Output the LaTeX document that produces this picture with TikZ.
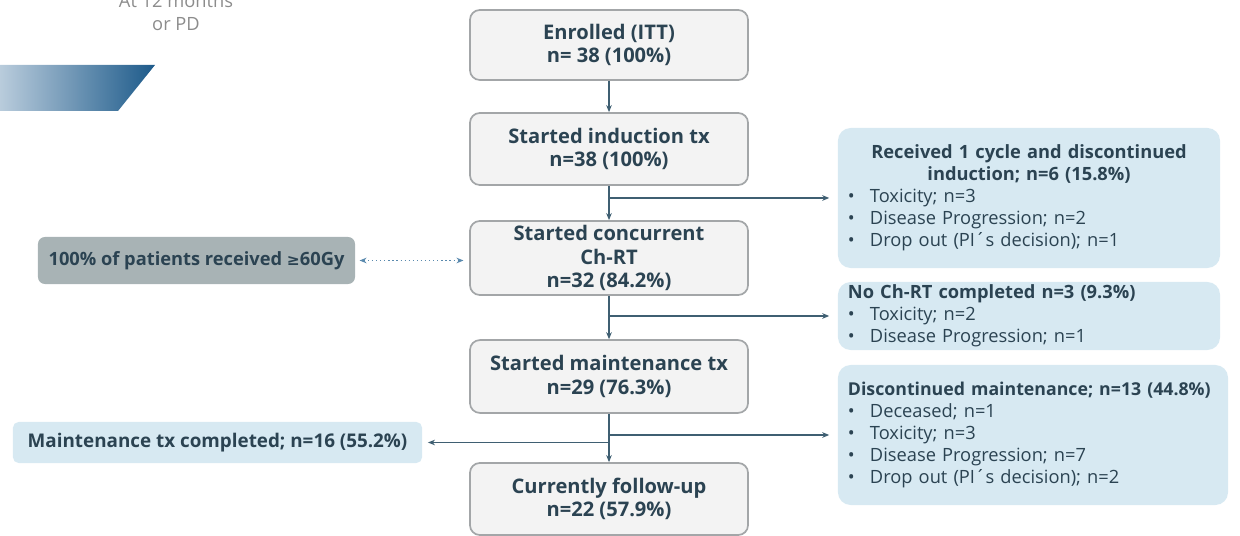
\documentclass[tikz,border=0pt]{standalone}
\usepackage{fontspec}
\setmainfont{Open Sans}
\newfontfamily\dejavu{DejaVu Sans}
\usetikzlibrary{arrows.meta, positioning, calc}
\definecolor{boxgray}{HTML}{F3F3F3}
\definecolor{boxline}{HTML}{A3A6A8}
\definecolor{textdark}{HTML}{2B4352}
\definecolor{sideblue}{HTML}{D7E9F2}
\definecolor{dosegray}{HTML}{A8B3B5}
\definecolor{arrowcol}{HTML}{3F5F72}
\definecolor{dotblue}{HTML}{5A8AAE}
\definecolor{bandlight}{HTML}{B9CCDC}
\definecolor{banddark}{HTML}{1D5A8A}
\newcommand{\flowfont}{\fontsize{14.3}{16.6}\selectfont\bfseries}
\newcommand{\notefont}{\fontsize{13}{15.6}\selectfont}
\newcommand{\sidebul}{\makebox[0.55cm][l]{\textbullet}}

\begin{document}
\begin{tikzpicture}[x=0.025cm, y=-0.025cm,
    mainbox/.style={draw=boxline, fill=boxgray, line width=1.2pt, rounded corners=7pt,
        text=textdark, font=\flowfont, align=center, inner sep=0pt,
        minimum width=6.95cm},
    sidebox/.style={fill=sideblue, rounded corners=9pt, text=textdark, font=\notefont,
        align=left, inner xsep=0.25cm, inner ysep=0pt},
    flow/.style={-{Stealth[length=5pt,width=4pt]}, line width=1.3pt, draw=arrowcol},
    dotflow/.style={{Stealth[length=5pt,width=4pt]}-{Stealth[length=5pt,width=4pt]},
        dotted, line width=0.9pt, draw=dotblue, shorten <=3pt, shorten >=4pt},
  ]
    \clip (0,0) rectangle (1240,536);
    \useasboundingbox (0,0) rectangle (1240,536);

    % Top left corner
    \node[text=gray!90, font=\fontsize{13}{16}\selectfont, align=center] (legend) at (176,12) {At 12 months\\or PD};
    \shade[left color=bandlight, right color=banddark] (0,65) -- (155,65) -- (118,111) -- (0,111) -- cycle;

    % Main flow
    \node[mainbox, minimum height=1.75cm] (enrol) at (609,45) {Enrolled (ITT)\\n= 38 (100\%)};
    \node[mainbox, minimum height=1.8cm] (induct) at (609,149) {Started induction tx\\n=38 (100\%)};
    \node[mainbox, minimum height=1.85cm] (concur) at (609,258) {Started concurrent\\Ch-RT\\n=32 (84.2\%)};
    \node[mainbox, minimum height=1.82cm] (maint) at (609,376.5) {Started maintenance tx\\n=29 (76.3\%)};
    \node[mainbox, minimum height=1.8cm] (follow) at (609,499) {Currently follow-up\\n=22 (57.9\%)};

    % Side boxes
    \node[sidebox, text width=9.05cm, minimum height=3.5cm] (recv) at (1029,198)
        {{\centering\bfseries Received 1 cycle and discontinued\\induction; n=6 (15.8\%)\par}
         \sidebul Toxicity; n=3\\
         \sidebul Disease Progression; n=2\\
         \sidebul Drop out (PI´s decision); n=1};
    \node[sidebox, text width=9.05cm, minimum height=1.7cm] (noch) at (1029,316)
        {\textbf{No Ch-RT completed n=3 (9.3\%)}\\
         \sidebul Toxicity; n=2\\
         \sidebul Disease Progression; n=1};
    \node[sidebox, text width=9.25cm, minimum height=3.5cm] (disc) at (1033,435)
        {\makebox[\linewidth][l]{\fontsize{12.6}{15.6}\selectfont\bfseries Discontinued maintenance; n=13 (44.8\%)}\\
         \sidebul Deceased; n=1\\
         \sidebul Toxicity; n=3\\
         \sidebul Disease Progression; n=7\\
         \sidebul Drop out (PI´s decision); n=2};

    % Left boxes
    \node[fill=dosegray, rounded corners=5pt, text=textdark, font=\notefont\bfseries,
        minimum width=7.925cm, minimum height=1.175cm, inner sep=0pt] (dose) at (196.5,260.5)
        {100\% of patients received {\dejavu\bfseries\fontsize{11}{12}\selectfont ≥}60Gy};
    \node[fill=sideblue, rounded corners=4pt, text=textdark, font=\fontsize{13.4}{15.6}\selectfont\bfseries,
        minimum width=10.225cm, minimum height=1.025cm, inner sep=0pt] (done) at (217.5,442.5)
        {Maintenance tx completed; n=16 (55.2\%)};

    % Connectors
    \draw[flow] (enrol) -- (induct);
    \draw[flow] (induct) -- (concur);
    \draw[flow] (concur) -- (maint);
    \draw[flow] (maint) -- (follow);

    \coordinate (br1) at (induct.south |- recv.west);
    \coordinate (br2) at (concur.south |- noch.west);
    \coordinate (br3) at (maint.south |- disc.west);
    \coordinate (br4) at (maint.south |- done.east);
    \draw[flow, shorten >=6pt] (br1) -- (recv.west |- br1);
    \draw[flow, shorten >=6pt] (br2) -- (noch.west |- br2);
    \draw[flow, shorten >=6pt] (br3) -- (disc.west |- br3);
    \draw[flow, shorten >=4pt] (br4) -- (done.east);

    \draw[dotflow] (dose.east) -- (dose.east -| concur.west);
\end{tikzpicture}
\end{document}
